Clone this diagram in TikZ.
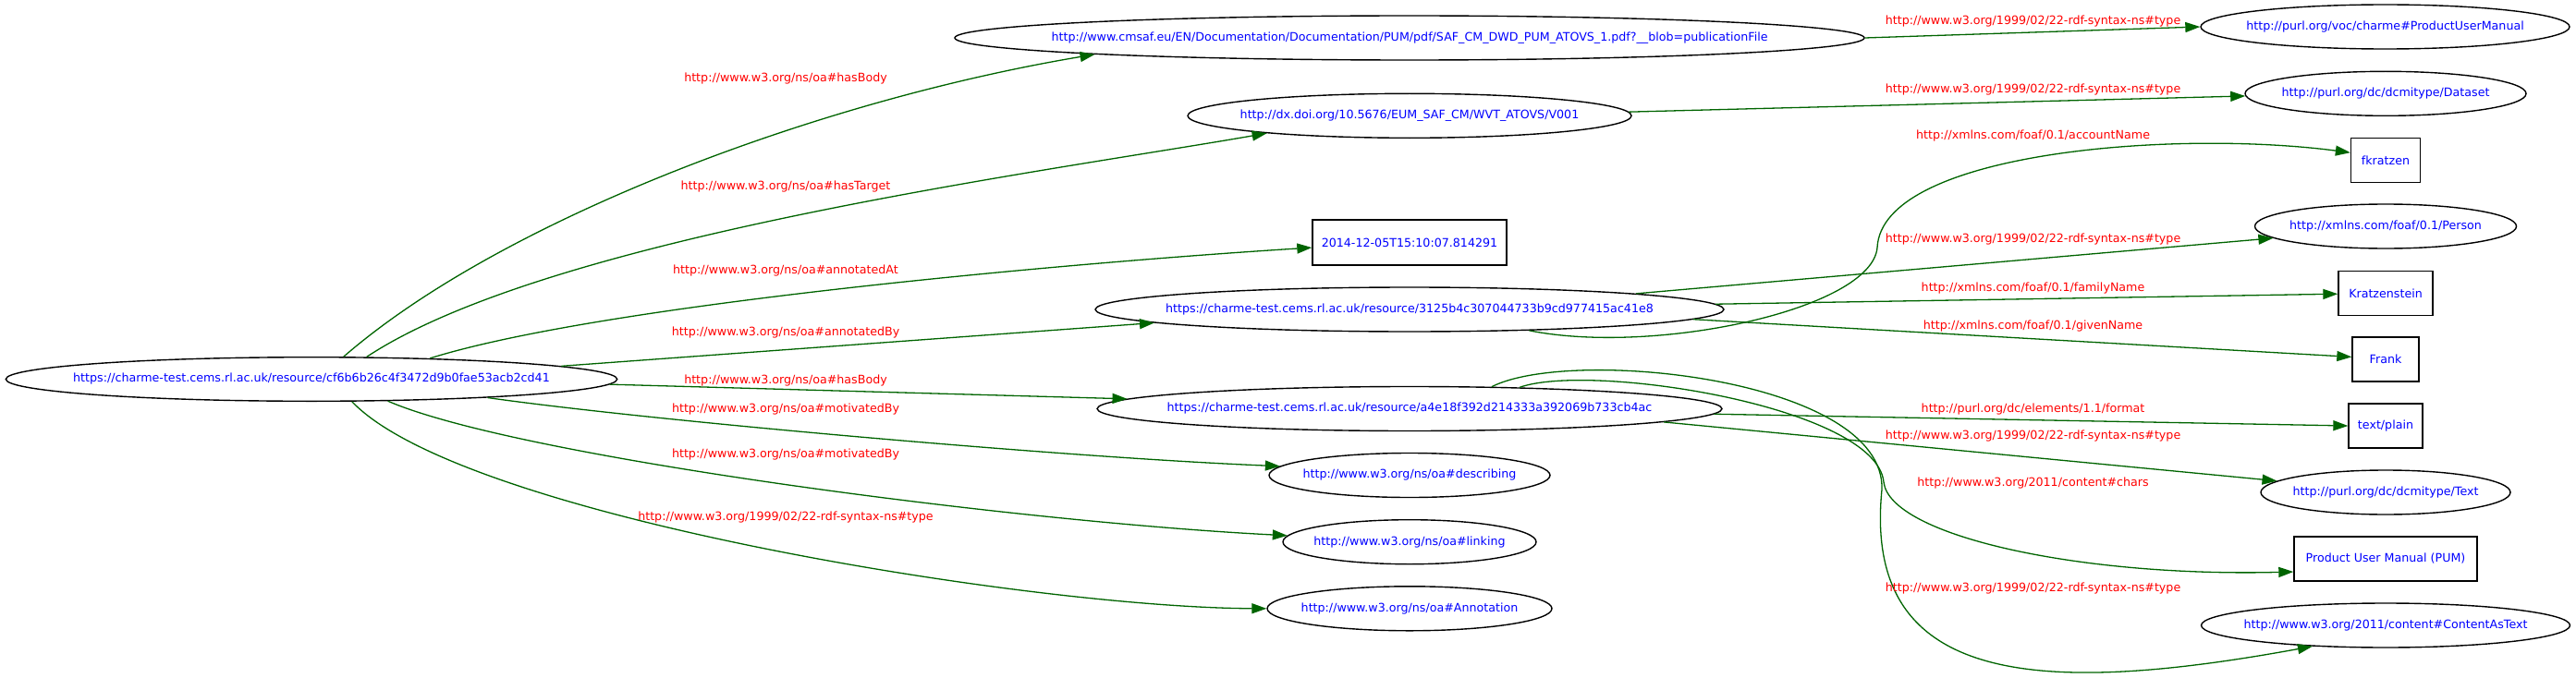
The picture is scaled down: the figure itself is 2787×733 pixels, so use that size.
\documentclass[tikz,border=0pt]{standalone}
\usepackage{fontspec}
\newfontfamily\gvfont{DejaVu Sans}
\usetikzlibrary{shapes.geometric,arrows.meta}
\definecolor{gvblue}{RGB}{0,0,255}
\definecolor{gvred}{RGB}{255,0,0}
\definecolor{gvgreen}{RGB}{0,100,0}
\newcommand\zw[1]{\makebox[0pt]{#1}}
\begin{document}
\begin{tikzpicture}[x=0.5pt,y=-0.5pt,
  txt/.style={font=\gvfont\fontsize{6.33pt}{7.6pt}\selectfont},
  ell/.style={txt,draw,line width=0.7pt,ellipse,inner sep=0pt,minimum height=24pt,minimum width=#1,text=gvblue},
  rbox/.style={txt,draw,line width=0.7pt,rectangle,inner sep=0pt,minimum height=24pt,minimum width=#1,text=gvblue},
  lbl/.style={txt,text=gvred,inner sep=0pt},
  gedge/.style={draw=gvgreen,line width=0.65pt,-{Triangle[length=8pt,width=5.5pt]}}]
\useasboundingbox (0,0) rectangle (2787,733);

% nodes
\node[ell=330.7pt,minimum height=23.8pt] (R) at (337,410.5) {\zw{https://charme-test.cems.rl.ac.uk/resource/cf6b6b26c4f3472d9b0fae53acb2cd41}};
\node[ell=492pt] (cms) at (1525,41) {\zw{http://www.cmsaf.eu/EN/Documentation/Documentation/PUM/pdf/SAF\_CM\_DWD\_PUM\_ATOVS\_1.pdf?\_\_blob=publicationFile}};
\node[ell=240pt] (doi) at (1525,125.3) {\zw{http://dx.doi.org/10.5676/EUM\_SAF\_CM/WVT\_ATOVS/V001}};
\node[rbox=105pt,minimum height=24.5pt] (date) at (1525,262.5) {\zw{2014-12-05T15:10:07.814291}};
\node[ell=340pt] (ann) at (1525,335) {\zw{https://charme-test.cems.rl.ac.uk/resource/3125b4c307044733b9cd977415ac41e8}};
\node[ell=338pt] (tgt) at (1525,442.5) {\zw{https://charme-test.cems.rl.ac.uk/resource/a4e18f392d214333a392069b733cb4ac}};
\node[ell=152pt] (desc) at (1525,514.5) {\zw{http://www.w3.org/ns/oa\#describing}};
\node[ell=137pt] (link) at (1525,586.7) {\zw{http://www.w3.org/ns/oa\#linking}};
\node[ell=154pt] (anno) at (1525,658.8) {\zw{http://www.w3.org/ns/oa\#Annotation}};

\node[ell=199.5pt] (pumt) at (2580.5,29) {\zw{http://purl.org/voc/charme\#ProductUserManual}};
\node[ell=152pt] (dset) at (2581,101.3) {\zw{http://purl.org/dc/dcmitype/Dataset}};
\node[rbox=37.5pt] (fk) at (2581,173.3) {\zw{fkratzen}};
\node[ell=141.5pt] (pers) at (2581,245) {\zw{http://xmlns.com/foaf/0.1/Person}};
\node[rbox=51pt] (kz) at (2581,317.3) {\zw{Kratzenstein}};
\node[rbox=36pt] (fr) at (2581,389) {\zw{Frank}};
\node[rbox=40pt] (tp) at (2581,461) {\zw{text/plain}};
\node[ell=135pt] (dtext) at (2581,533) {\zw{http://purl.org/dc/dcmitype/Text}};
\node[rbox=99pt] (pum) at (2581,605) {\zw{Product User Manual (PUM)}};
\node[ell=199.5pt] (cat) at (2581,677) {\zw{http://www.w3.org/2011/content\#ContentAsText}};

\coordinate (fkbend) at (2031,268);
\coordinate (pumbend) at (2038,522);
\coordinate (catbend) at (2036,530);

% edges from root
\draw[gedge] (R.35.5) .. controls (540,240) and (880,110) .. (cms.183.5);
\draw[gedge] (R.22.4) .. controls (594,256) and (1131,186) .. (doi.187.4);
\draw[gedge] (R.10.7) .. controls (650,330) and (1150,285) .. (date.183);
\draw[gedge] (R.3.8) -- (ann.183.6);
\draw[gedge] (R.-1.6) -- (tgt.178.3);
\draw[gedge] (R.-6.9) .. controls (700,455) and (1150,495) .. (desc.176.4);
\draw[gedge] (R.-16.2) .. controls (560,495) and (1100,565) .. (link.177.5);
\draw[gedge] (R.-29.1) .. controls (500,560) and (1122,658) .. (anno.west);

% edges to right column
\draw[gedge] (cms.0.6) -- (pumt.180.8);
\draw[gedge] (doi.1.3) -- (dset.181.4);
\draw[gedge] (ann.-10.7) .. controls (1790,385) and (2025,335) .. (fkbend) .. controls (2036,165) and (2350,140) .. (fk.168.5);
\draw[gedge] (ann.4.0) -- (pers.186.3);
\draw[gedge] (ann.1.0) -- (kz.181.1);
\draw[gedge] (ann.-2.8) -- (fr.176.3);
\draw[gedge] (tgt.-1.0) -- (tp.west);
\draw[gedge] (tgt.-3.9) -- (dtext.174.4);
\draw[gedge] (tgt.11.6) .. controls (1720,392) and (2030,440) .. (pumbend) .. controls (2045,580) and (2250,625) .. (pum.188.6);
\draw[gedge] (tgt.15) .. controls (1700,375) and (2040,410) .. (catbend) .. controls (2015,740) and (2200,755) .. (cat.196.4);

% labels left
\node[lbl] (l1) at (850,85) {http://www.w3.org/ns/oa\#hasBody};
\node[lbl] (l2) at (850,202.3) {http://www.w3.org/ns/oa\#hasTarget};
\node[lbl] (l3) at (850,292.7) {http://www.w3.org/ns/oa\#annotatedAt};
\node[lbl] (l4) at (850,360) {http://www.w3.org/ns/oa\#annotatedBy};
\node[lbl] (l5) at (850,412) {http://www.w3.org/ns/oa\#hasBody};
\node[lbl] (l6) at (850,442.7) {http://www.w3.org/ns/oa\#motivatedBy};
\node[lbl] (l7) at (850,491.7) {http://www.w3.org/ns/oa\#motivatedBy};
\node[lbl] (l8) at (850,560) {http://www.w3.org/1999/02/22-rdf-syntax-ns\#type};

% labels right
\node[lbl] (r1) at (2199.5,22.7) {http://www.w3.org/1999/02/22-rdf-syntax-ns\#type};
\node[lbl] (r2) at (2199.5,96.7) {http://www.w3.org/1999/02/22-rdf-syntax-ns\#type};
\node[lbl] (r3) at (2199.5,147.3) {http://xmlns.com/foaf/0.1/accountName};
\node[lbl] (r4) at (2199.5,259.3) {http://www.w3.org/1999/02/22-rdf-syntax-ns\#type};
\node[lbl] (r5) at (2199.5,311.7) {http://xmlns.com/foaf/0.1/familyName};
\node[lbl] (r6) at (2199.5,352.7) {http://xmlns.com/foaf/0.1/givenName};
\node[lbl] (r7) at (2199.5,442.7) {http://purl.org/dc/elements/1.1/format};
\node[lbl] (r8) at (2199.5,471.7) {http://www.w3.org/1999/02/22-rdf-syntax-ns\#type};
\node[lbl] (r9) at (2199.5,523.3) {http://www.w3.org/2011/content\#chars};
\node[lbl] (r10) at (2199.5,636.7) {http://www.w3.org/1999/02/22-rdf-syntax-ns\#type};
\end{tikzpicture}
\end{document}
